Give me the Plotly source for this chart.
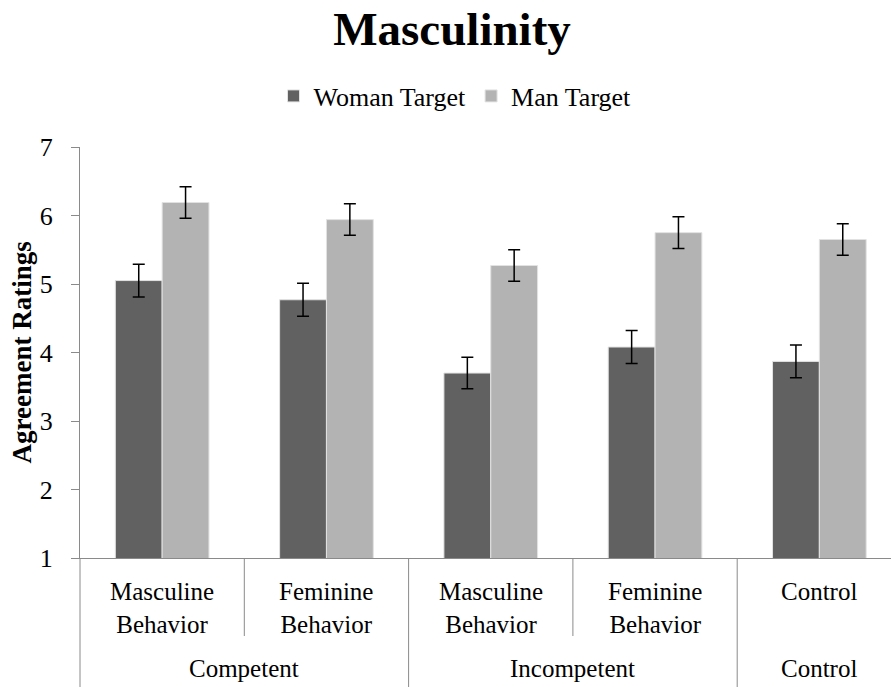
import plotly.graph_objects as go

# ---- data ----
inner_labels = ["Masculine<br>Behavior", "Feminine<br>Behavior", "Masculine<br>Behavior",
                "Feminine<br>Behavior", "Control"]
outer_labels = ["Competent", "Incompetent", "Control"]
outer_spans = [(0, 1), (2, 3), (4, 4)]
series_names = ["Woman Target", "Man Target"]
woman_vals = [5.05, 4.77, 3.70, 4.08, 3.87]
man_vals = [6.19, 5.94, 5.27, 5.75, 5.65]
woman_err = [0.24, 0.24, 0.23, 0.24, 0.24]
man_err = [0.23, 0.23, 0.23, 0.23, 0.23]
y_ticks = [1, 2, 3, 4, 5, 6, 7]

FONT = "Liberation Serif"
AXIS = "#8a8a8a"
W, H = 891, 687
ML, MR, MT, MB = 80, 0, 147, 129
plot_w = W - ML - MR
plot_h = H - MT - MB

x = list(range(len(inner_labels)))

fig = go.Figure()
for name, vals, errs, col in [(series_names[0], woman_vals, woman_err, "#616161"),
                              (series_names[1], man_vals, man_err, "#b3b3b3")]:
    fig.add_trace(go.Bar(
        x=x, y=vals, name=name,
        marker=dict(color=col, line=dict(color="#e2e2e2", width=1)),
        error_y=dict(type="data", array=errs, color="black", thickness=1.5, width=6),
    ))

def py(pix):
    # pixel offset below the plot bottom -> paper coordinate
    return -pix / plot_h

shapes = []
for b in [0.5, 2.5]:
    shapes.append(dict(type="line", xref="x", yref="paper", x0=b, x1=b, y0=0, y1=py(78),
                       line=dict(color=AXIS, width=1)))
for b in [1.5, 3.5]:
    shapes.append(dict(type="line", xref="x", yref="paper", x0=b, x1=b, y0=0, y1=py(135),
                       line=dict(color=AXIS, width=1)))
shapes.append(dict(type="line", xref="paper", yref="paper", x0=0, x1=0, y0=0, y1=py(135),
                   line=dict(color=AXIS, width=1)))

annotations = []
for i, lab in enumerate(inner_labels):
    annotations.append(dict(x=i, y=py(18), xref="x", yref="paper", text=lab,
                            showarrow=False, xanchor="center", yanchor="top",
                            font=dict(family=FONT, size=25, color="black")))
for lab, (a, b) in zip(outer_labels, outer_spans):
    annotations.append(dict(x=(a + b) / 2, y=py(110), xref="x", yref="paper", text=lab,
                            showarrow=False, xanchor="center", yanchor="middle",
                            font=dict(family=FONT, size=25, color="black")))
annotations.append(dict(x=(21 - ML) / plot_w, y=0.5, xref="paper", yref="paper",
                        text="<b>Agreement Ratings</b>", textangle=-90, showarrow=False,
                        xanchor="center", yanchor="middle",
                        font=dict(family=FONT, size=27, color="black")))

fig.update_layout(
    width=W, height=H,
    margin=dict(l=ML, r=MR, t=MT, b=MB, autoexpand=False),
    font=dict(family=FONT, color="black"),
    paper_bgcolor="white", plot_bgcolor="white",
    barmode="group", bargap=0.43, bargroupgap=0,
    title=dict(text="<b>Masculinity</b>", x=452 / W, xanchor="center",
               y=1 - 29 / H, yanchor="middle", yref="container",
               font=dict(family=FONT, size=47, color="black")),
    legend=dict(orientation="h", x=(455 - ML) / plot_w, xanchor="center",
                y=1 + (MT - 96) / plot_h, yanchor="middle",
                font=dict(family=FONT, size=26, color="black"),
                bgcolor="rgba(0,0,0,0)", itemclick=False),
    xaxis=dict(range=[-0.5, -0.5 + plot_w / 164.3], showticklabels=False,
               showline=True, linecolor=AXIS, linewidth=1, ticks="", showgrid=False,
               zeroline=False, fixedrange=True),
    yaxis=dict(range=[1, 7], tickvals=y_ticks, ticks="outside", ticklen=8,
               tickcolor=AXIS, showline=True, linecolor=AXIS, linewidth=1,
               showgrid=False, zeroline=False, ticklabelstandoff=13,
               tickfont=dict(family=FONT, size=26, color="black")),
    shapes=shapes, annotations=annotations,
    showlegend=True,
)

fig.write_html("out.html", config={"displayModeBar": False},
               post_script="document.body.style.margin='0';document.body.style.overflow='hidden';")
